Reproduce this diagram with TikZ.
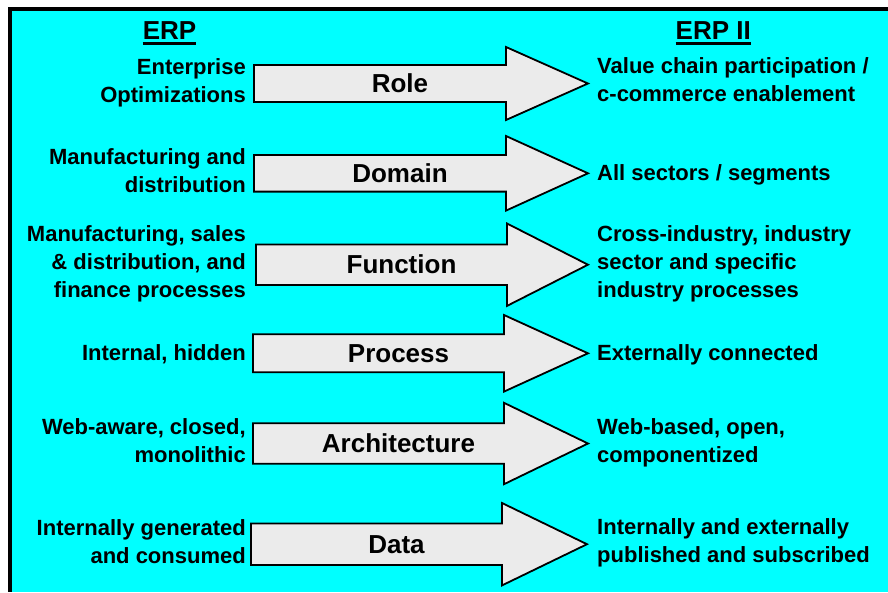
\documentclass[tikz,border=0pt]{standalone}
\usepackage{fontspec}
\setmainfont{Liberation Sans}
\usepackage{tikz}

\definecolor{panel}{RGB}{0,255,255}
\definecolor{arrowgray}{RGB}{235,235,235}

\tikzset{
  oldside/.style={anchor=east, align=right, inner sep=0pt,
    font=\bfseries\fontsize{22}{28}\selectfont,
    execute at begin node=\strut, execute at end node=\strut},
  newside/.style={oldside, anchor=west, align=left},
  arrowlabel/.style={inner sep=0pt, font=\bfseries\fontsize{26}{30}\selectfont},
  header/.style={anchor=base, inner sep=0pt, font=\bfseries\fontsize{26}{30}\selectfont}
}

\begin{document}
\begin{tikzpicture}[x=1pt, y=-1pt]
            \useasboundingbox[fill=white] (0,0) rectangle (888,592);
            \fill[black] (8,7) rectangle (888,592);
            \fill[panel] (12,11) rectangle (888,592);
            % column heads
            \node[header] (erp) at (169.5,39.3) {ERP};
            \node[header] (erpii) at (713.3,39.3) {ERP II};
            \draw[line width=3pt] ([yshift=-4pt]erp.base west) -- ([yshift=-4pt]erp.base east);
            \draw[line width=3pt] ([yshift=-4pt]erpii.base west) -- ([yshift=-4pt]erpii.base east);
            % block arrows: left / head / tip / middle / shaft half / head half
            \foreach \l/\h/\t/\c/\s/\w/\n/\txt in {
                254/506/588/83.5/18.5/36.5/role/Role,
                254/506/588/173.3/18.3/37.3/domain/Domain,
                256/507/588/264.7/20.3/41.2/function/Function,
                253/504/588/353.3/19/38.3/process/Process,
                253/504/588/443.5/20.3/40.7/architecture/Architecture,
                251/502/587/544.2/20.8/41.2/data/Data}{
                \draw[line width=1.8pt, fill=arrowgray] (\l,\c-\s) -- (\h,\c-\s) -- (\h,\c-\w)
                    -- (\t,\c) -- (\h,\c+\w) -- (\h,\c+\s) -- (\l,\c+\s) -- cycle;
                \node[arrowlabel] (\n) at ({(\l+\h)/2+20},\c) {\txt};
            }
            % ERP side
            \node[oldside] (old-role) at (246,85) {Enterprise\\Optimizations};
            \node[oldside] (old-domain) at (246,175) {Manufacturing and\\distribution};
            \node[oldside] (old-function) at (246,266.2) {Manufacturing, sales\\\& distribution, and\\finance processes};
            \node[oldside] (old-process) at (246,355) {Internal, hidden};
            \node[oldside] (old-architecture) at (246,445) {Web-aware, closed,\\monolithic};
            \node[oldside] (old-data) at (246,545.7) {Internally generated\\and consumed};
            % ERP II side
            \node[newside] (new-role) at (597,84) {Value chain participation /\\c-commerce enablement};
            \node[newside] (new-domain) at (597,174.5) {All sectors / segments};
            \node[newside] (new-function) at (597,266.2) {Cross-industry, industry\\sector and specific\\industry processes};
            \node[newside] (new-process) at (597,354.5) {Externally connected};
            \node[newside] (new-architecture) at (597,445) {Web-based, open,\\componentized};
            \node[newside] (new-data) at (597,544.5) {Internally and externally\\published and subscribed};
        \end{tikzpicture}
\end{document}
